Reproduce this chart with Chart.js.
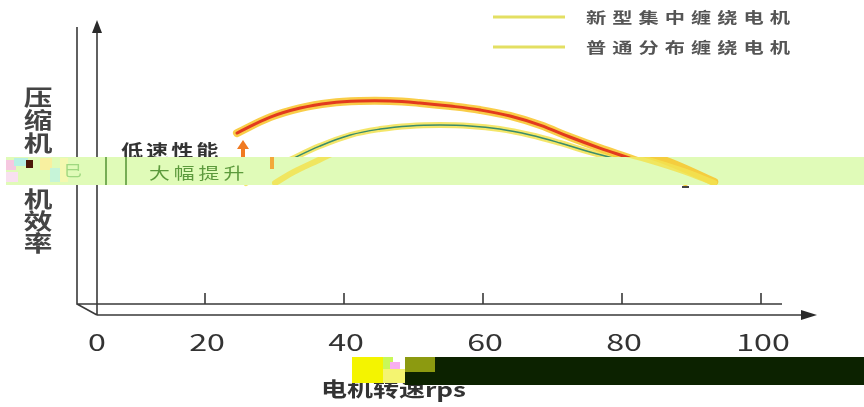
<!DOCTYPE html>
<html>
<head>
<meta charset="utf-8">
<script src="https://cdn.jsdelivr.net/npm/chart.js@4/dist/chart.umd.min.js"></script>
<style>
  body { margin: 0; background: #fff; }
  #wrap { width: 864px; height: 407px; position: relative; }
</style>
</head>
<body>
<div id="wrap"><canvas id="myChart"></canvas></div>
<script>
const seriesNames = ["新型集中缠绕电机", "普通分布缠绕电机"];
const speedNew = [24.6, 29.4, 33.7, 38.0, 42.3, 46.6, 50.9, 55.3, 59.6, 63.9, 68.2, 72.5, 76.8, 82.6, 89.1];
const effNew = [60.2, 65.8, 69.0, 70.8, 71.5, 71.5, 70.8, 69.7, 68.3, 66.2, 63.0, 58.8, 54.9, 50.0, 43.0];
const speedStd = [25.9, 28.6, 32.2, 36.5, 40.9, 45.2, 49.5, 53.8, 58.1, 62.4, 66.8, 71.1, 75.4, 79.7, 84.7, 89.1];
const effStd = [42.6, 46.5, 50.7, 55.6, 59.5, 61.6, 62.7, 63.0, 62.7, 61.6, 59.5, 56.7, 53.5, 50.7, 46.8, 42.6];
const xTicks = [0, 20, 40, 60, 80, 100];
const yTitle = ["压", "缩", "机", "电", "机", "效", "率"];
const xTitle = "电机转速rps";
const noteTop = "低速性能";
const noteBottom = "大幅提升";

const FONT = '"Noto Sans CJK SC", "Noto Sans", sans-serif';

const toPoints = (xs, ys) => xs.map((x, i) => ({ x: x, y: ys[i] }));

// draws text char by char, stretched a bit sideways like the picture
function stretchText(ctx, str, x, y, size, weight, color, sx, gap, align) {
  ctx.save();
  ctx.font = weight + " " + size + "px " + FONT;
  ctx.fillStyle = color;
  ctx.textBaseline = "middle";
  let widths = [...str].map(c => ctx.measureText(c).width * sx + gap);
  let total = widths.reduce((a, b) => a + b, 0) - gap;
  let cx = align === "center" ? x - total / 2 : x;
  [...str].forEach((c, i) => {
    ctx.save();
    ctx.translate(cx, y);
    ctx.scale(sx, 1);
    ctx.fillText(c, 0, 0);
    ctx.restore();
    cx += widths[i];
  });
  ctx.restore();
}

const axesPlugin = {
  id: "axesPlugin",
  beforeDatasetsDraw(chart) {
    const ctx = chart.ctx;
    const xs = chart.scales.x, ys = chart.scales.y;
    const bx = xs.getPixelForValue(0) + 11, by = ys.getPixelForValue(0);
    const fx = bx + 20, fy = by + 11;
    ctx.save();
    ctx.strokeStyle = "#3a3a3a";
    ctx.fillStyle = "#2a2a2a";
    ctx.lineWidth = 1.6;
    ctx.beginPath();
    // back frame
    ctx.moveTo(bx, ys.getPixelForValue(100) + 7);
    ctx.lineTo(bx, by);
    ctx.lineTo(xs.getPixelForValue(100) + 21, by);
    // diagonal to the front origin
    ctx.moveTo(bx, by);
    ctx.lineTo(fx, fy);
    // front axes
    ctx.moveTo(fx, fy);
    ctx.lineTo(fx, ys.getPixelForValue(100) + 10);
    ctx.moveTo(fx, fy);
    ctx.lineTo(xs.getPixelForValue(100) + 46, fy);
    xTicks.forEach(v => {
      if (v === 0) return;
      const px = xs.getPixelForValue(v);
      ctx.moveTo(px, by);
      ctx.lineTo(px, by - 11);
    });
    ctx.stroke();
    // arrow heads
    const topY = ys.getPixelForValue(100);
    ctx.beginPath();
    ctx.moveTo(fx, topY);
    ctx.lineTo(fx - 5, topY + 13);
    ctx.lineTo(fx + 5, topY + 13);
    ctx.closePath();
    ctx.fill();
    const endX = xs.getPixelForValue(100) + 56;
    ctx.beginPath();
    ctx.moveTo(endX, fy);
    ctx.lineTo(endX - 16, fy - 5);
    ctx.lineTo(endX - 16, fy + 5);
    ctx.closePath();
    ctx.fill();
    ctx.restore();

    // tick labels
    xTicks.forEach(v => {
      const px = v === 0 ? fx : xs.getPixelForValue(v) + 2;
      stretchText(ctx, String(v), px, 342, 23, "normal", "#333", 1.4, 0, "center");
    });
  },
  afterDraw(chart) {
    const ctx = chart.ctx;
    // y title
    yTitle.forEach((c, i) => {
      const ys = [97, 120, 143, 170, 199, 221, 243];
      stretchText(ctx, c, 38, ys[i], 22, "bold", "#444", 1.3, 0, "center");
    });
    // annotation
    stretchText(ctx, noteTop, 121, 151, 17, "bold", "#333", 1.3, 3, "left");
    ctx.save();
    ctx.fillStyle = "#f07a22";
    ctx.beginPath();
    ctx.moveTo(243, 140);
    ctx.lineTo(237, 149);
    ctx.lineTo(249, 149);
    ctx.closePath();
    ctx.fill();
    ctx.fillRect(241, 148, 4, 12);
    ctx.restore();

    // legend
    seriesNames.forEach((name, i) => {
      const y = 17 + i * 30;
      ctx.save();
      ctx.strokeStyle = "#e3df62";
      ctx.lineWidth = 3;
      ctx.beginPath();
      ctx.moveTo(493, y);
      ctx.lineTo(565, y);
      ctx.stroke();
      ctx.restore();
      stretchText(ctx, name, 586, y, 15, "bold", "#555", 1.35, 6, "left");
    });

    // the light green streak across the middle
    ctx.save();
    ctx.fillStyle = "#e0fbb8";
    ctx.fillRect(6, 157, 858, 28);
    const noise = [[6, 160, 10, 10, "#f6c8e0"], [14, 158, 14, 8, "#b8f0e4"], [40, 158, 12, 12, "#f8f0a0"],
      [50, 168, 14, 14, "#c6f4d8"], [6, 172, 12, 10, "#f8e0f0"], [60, 158, 8, 24, "#f4f8b0"]];
    noise.forEach(n => { ctx.fillStyle = n[4]; ctx.fillRect(n[0], n[1], n[2], n[3]); });
    ctx.fillStyle = "#4a1808";
    ctx.fillRect(26, 160, 7, 8);
    ctx.beginPath();
    ctx.rect(6, 157, 858, 28);
    ctx.clip();
    ctx.translate(29, 0);
    // shifted copies of the yellow halos
    [2, 3].forEach(i => chart.getDatasetMeta(i).dataset.draw(ctx, chart.chartArea));
    ctx.fillStyle = "#f2a83a";
    ctx.fillRect(241, 157, 4, 12);
    ctx.strokeStyle = "#5c9a3c";
    ctx.lineWidth = 1.6;
    ctx.beginPath();
    ctx.moveTo(77, 157); ctx.lineTo(77, 185);
    ctx.moveTo(97, 157); ctx.lineTo(97, 185);
    ctx.stroke();
    ctx.restore();
    stretchText(ctx, "巳", 73, 170, 15, "normal", "#9fd880", 1.2, 0, "center");
    stretchText(ctx, noteBottom, 149, 173, 16, "normal", "#5c9a3c", 1.3, 4, "left");
    ctx.save();
    ctx.fillStyle = "#444";
    ctx.fillRect(682, 186, 7, 2);
    ctx.restore();

    // x title and the dark block over it
    stretchText(ctx, xTitle, 321, 389, 20, "bold", "#333", 1.3, 0, "left");
    ctx.save();
    ctx.fillStyle = "#f4f400";
    ctx.fillRect(352, 357, 31, 26);
    ctx.fillStyle = "#c8f858";
    ctx.fillRect(383, 357, 10, 12);
    ctx.fillStyle = "#f8b0f0";
    ctx.fillRect(390, 362, 10, 10);
    ctx.fillStyle = "#f4f470";
    ctx.fillRect(383, 369, 22, 14);
    ctx.fillStyle = "#8c9a10";
    ctx.fillRect(405, 357, 30, 15);
    ctx.fillStyle = "#0c2200";
    ctx.fillRect(405, 372, 30, 13);
    ctx.fillRect(435, 357, 429, 28);
    ctx.restore();
  }
};

const ctx = document.getElementById("myChart").getContext("2d");
const myChart = new Chart(ctx, {
  type: "line",
  data: {
    datasets: [
      { label: seriesNames[0], data: toPoints(speedNew, effNew), borderColor: "#e23a1e", borderWidth: 3, order: 0 },
      { label: seriesNames[1], data: toPoints(speedStd, effStd), borderColor: "#3a8c6c", borderWidth: 1.5, order: 0 },
      { label: seriesNames[0] + " halo", data: toPoints(speedNew, effNew), borderColor: "rgba(248,196,40,0.85)", borderWidth: 8, order: 1 },
      { label: seriesNames[1] + " halo", data: toPoints(speedStd, effStd), borderColor: "rgba(242,226,80,0.85)", borderWidth: 6, order: 1 }
    ]
  },
  options: {
    responsive: true,
    maintainAspectRatio: false,
    animation: false,
    devicePixelRatio: 1,
    layout: { padding: { left: 66, right: 103, top: 20, bottom: 103 } },
    elements: {
      point: { radius: 0 },
      line: { tension: 0.4, borderCapStyle: "round" }
    },
    scales: {
      x: { type: "linear", min: 0, max: 100, display: false },
      y: { min: 0, max: 100, display: false }
    },
    plugins: {
      legend: { display: false },
      tooltip: { enabled: false }
    }
  },
  plugins: [axesPlugin]
});
</script>
</body>
</html>
